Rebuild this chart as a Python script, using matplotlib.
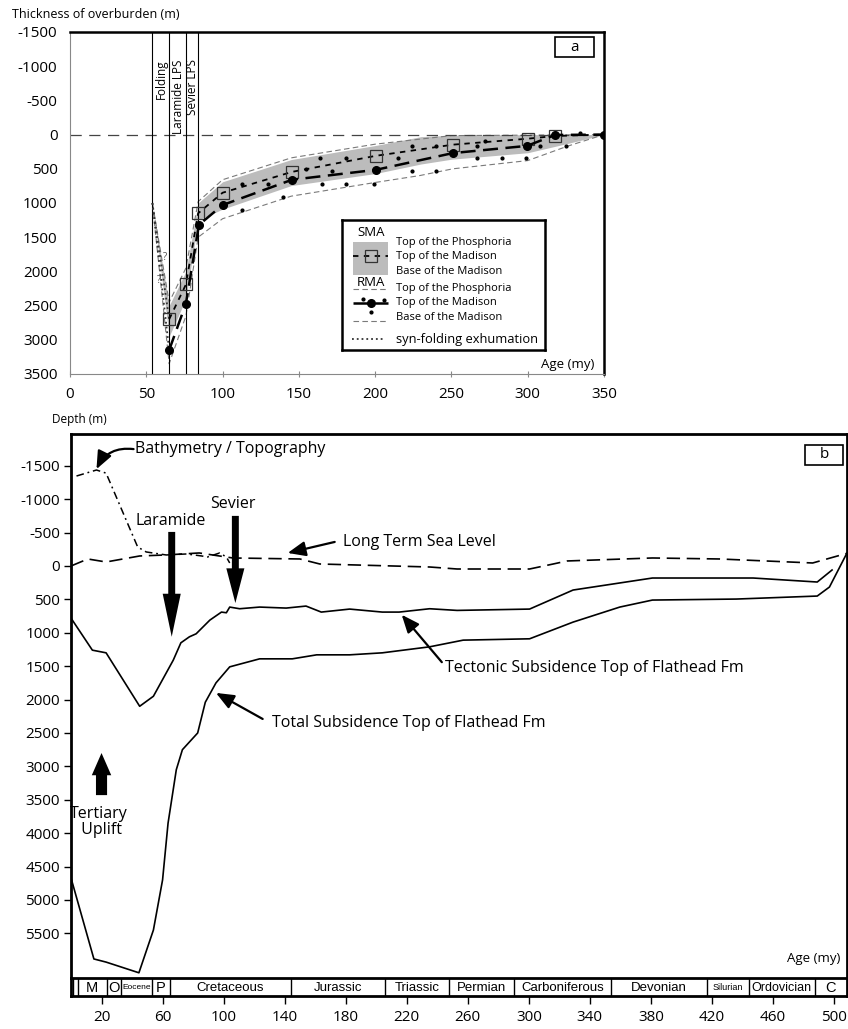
import numpy as np
import matplotlib
matplotlib.use("Agg")
import matplotlib.pyplot as plt
from matplotlib.patches import Rectangle, FancyArrowPatch

plt.rcParams['font.family'] = ['Open Sans', 'DejaVu Sans']
plt.rcParams['axes.unicode_minus'] = False

W, H = 848, 1029

# -----------------------------------------------------------------------
# Panel a data (age in my, thickness of overburden in m)
# -----------------------------------------------------------------------
sma_age = [65, 76, 84, 100, 145.5, 200.5, 251, 300, 318, 350]
sma_madison_top = [2700, 2190, 1150, 850, 545, 310, 147, 60, 20, 0]

rma_age = [65, 76, 84.5, 100, 145.5, 200.5, 251, 299.5, 318, 350]
rma_madison_top = [3150, 2470, 1320, 1030, 660, 515, 270, 165, 5, 0]

band_age = [54, 65, 76, 84, 100, 145, 200, 230, 250, 300, 326, 350]
band_phosphoria = [1000, 2500, 2000, 1000, 690, 365, 160, 30, 10, 0, 0, 0]
band_madison_base = [1000, 2950, 2400, 1250, 1090, 745, 570, 430, 360, 265, 130, 0]

rma_phos_age = [54, 65, 76, 84, 100, 145, 200, 250, 350]
rma_phos = [1000, 2450, 1950, 980, 660, 340, 140, 15, 0]

rma_base_age = [54, 65, 76, 84, 100, 145, 200, 229, 251, 300, 326, 350]
rma_base = [1000, 3350, 2650, 1500, 1230, 900, 700, 600, 500, 380, 170, 0]

syn_age = [54, 65]
syn_sma = [1000, 2700]
syn_rma = [1000, 3150]

dot_age = [113, 130, 155, 164, 172, 181, 215, 224, 240, 267, 272, 308, 334,
           113, 139.5, 165, 181, 199, 224, 240, 267, 283, 299, 325]
dot_depth = [720, 720, 500, 340, 525, 340, 340, 160, 160, 160, 100, 160, -30,
             1100, 910, 720, 720, 720, 525, 525, 335, 335, 335, 160]

event_ages = [54, 65, 76, 84]
event_labels = [("Folding", 59.6), ("Laramide LPS", 70.8), ("Sevier LPS", 80.3)]

# -----------------------------------------------------------------------
# Panel b data (age in my, depth in m)
# -----------------------------------------------------------------------
tect_age = [0, 14, 23, 45, 54, 67, 72, 77.6, 82, 91, 98.6, 101.8, 104, 110.5,
            123.6, 141, 154, 164, 182.6, 204, 215, 235, 253, 300.5, 329, 381,
            447, 489, 498.7]
tect_depth = [780, 1260, 1300, 2100, 1950, 1410, 1150, 1060, 1015, 810, 690, 700,
              615, 640, 615, 630, 600, 690, 645, 690, 690, 640, 665, 645, 360,
              180, 180, 240, 60]

total_age = [0, 15, 23, 44.5, 54, 60, 63.6, 69, 73, 83, 88, 95, 104, 110.5,
             123.6, 145, 161, 182.6, 204, 235, 257, 300.5, 329, 359.6, 381,
             436, 489, 497, 508.5]
total_depth = [4670, 5883, 5930, 6090, 5450, 4700, 3850, 3050, 2750, 2500, 2040,
               1750, 1510, 1470, 1390, 1390, 1330, 1330, 1300, 1210, 1110, 1090,
               840, 615, 510, 495, 450, 315, -195]

sea_age = [0, 11, 23, 45, 62, 84, 106, 150, 163, 235, 253, 300.5, 316, 325,
           381, 425, 486, 508.5]
sea_depth = [0, -105, -60, -150, -165, -195, -120, -105, -30, 15, 45, 45, -30,
             -75, -120, -105, -45, -190]

bathy_age = [3.6, 16.7, 23, 43.7, 49.3, 62.4, 75.7, 85.6, 89.5, 97.4, 101.8, 104]
bathy_depth = [-1347, -1437, -1390, -284, -210, -165, -180, -150, -135, -195,
               -135, -45]

period_edges = [0, 1.6, 4.3, 23.3, 33, 53.4, 64.6, 144, 206, 248, 290, 354,
                417, 444, 487.5, 508.5]
period_names = ['', '', 'M', 'O', 'Eocene', 'P', 'Cretaceous', 'Jurassic',
                'Triassic', 'Permian', 'Carboniferous', 'Devonian', 'Silurian',
                'Ordovician', 'C']
period_fs = {'Eocene': 6, 'Silurian': 6.5, 'Ordovician': 9, 'M': 10.5, 'O': 10.5,
             'P': 10.5, 'C': 10.5}

fig = plt.figure(figsize=(W / 100, H / 100), dpi=100)

# -----------------------------------------------------------------------
# Panel a
# -----------------------------------------------------------------------
ax = fig.add_axes([70 / W, 1 - 374 / H, 534 / W, 342 / H])
ax.set_xlim(0, 350)
ax.set_ylim(3500, -1500)

ax.fill_between(band_age, band_phosphoria, band_madison_base,
                color='#bcbcbc', lw=0, zorder=1)
ax.plot(rma_phos_age, rma_phos, color='#7a7a7a', lw=0.8, dashes=(5, 3), zorder=2)
ax.plot(rma_base_age, rma_base, color='#7a7a7a', lw=0.8, dashes=(5, 3), zorder=2)
ax.plot(syn_age, syn_sma, color='#333', lw=1.3, ls=':', zorder=3)
ax.plot(syn_age, syn_rma, color='#333', lw=1.3, ls=':', zorder=3)
ax.plot(dot_age, dot_depth, ls='none', marker='o', ms=2, color='k', zorder=3)
ax.plot(sma_age, sma_madison_top, color='k', lw=1.3, dashes=(3, 3),
        marker='s', ms=8.5, mfc='none', mec='#333', mew=0.9,
        markevery=list(range(len(sma_age) - 1)), zorder=4)
ax.plot(rma_age, rma_madison_top, color='k', lw=1.8, dashes=(6, 3),
        marker='o', ms=5.5, zorder=5)

ax.axhline(0, color='#444', lw=0.9, dashes=(9, 6), zorder=2)
for a in event_ages:
    ax.axvline(a, color='k', lw=0.8, zorder=2)
for lab, xa in event_labels:
    ax.text(xa, -1100, lab, rotation=90, ha='center', va='top', fontsize=8.5)
ax.text(62, 1800, '?', fontsize=7, color='#555', ha='center', va='center')
ax.text(58.5, 2130, '?', fontsize=7, color='#555', ha='center', va='center')

ax.set_xticks(np.arange(0, 351, 50))
ax.set_yticks(np.arange(-1500, 3501, 500))
ax.tick_params(axis='y', length=0, pad=9, labelsize=11)
ax.tick_params(axis='x', direction='inout', length=5, color='#888', pad=7,
               labelsize=11)
for s in ['top', 'right']:
    ax.spines[s].set_linewidth(1.8)
for s in ['left', 'bottom']:
    ax.spines[s].set_linewidth(0.8)
    ax.spines[s].set_color('#888')

ax.text(344, 3363, 'Age (my)', ha='right', va='center', fontsize=9.5)
ax.add_patch(Rectangle((0.908, 0.927), 0.073, 0.058, transform=ax.transAxes,
                       fill=False, lw=1.2, ec='k'))
ax.text(0.9445, 0.956, 'a', transform=ax.transAxes, ha='center', va='center',
        fontsize=11)
fig.text(12 / W, 1 - 14 / H, 'Thickness of overburden (m)', ha='left',
         va='center', fontsize=9)

# legend drawn in its own pixel-coordinate box
lg = fig.add_axes([342 / W, 1 - 350 / H, 203 / W, 130 / H])
lg.set_xlim(342, 545)
lg.set_ylim(350, 220)
lg.set_xticks([])
lg.set_yticks([])
for s in lg.spines.values():
    s.set_linewidth(1.8)
lg.text(371, 233, 'SMA', ha='center', va='center', fontsize=9.5)
lg.add_patch(Rectangle((353, 242), 35, 33, color='#bcbcbc', lw=0))
lg.plot([353, 388], [256, 256], color='k', lw=1.3, dashes=(3, 3))
lg.plot([371], [256], marker='s', ms=8.5, mfc='none', mec='#333', mew=0.9)
lg.text(371, 282, 'RMA', ha='center', va='center', fontsize=9.5)
lg.plot([353, 388], [289, 289], color='#7a7a7a', lw=0.8, dashes=(5, 3))
lg.plot([353, 388], [303, 303], color='k', lw=1.8, dashes=(6, 3))
lg.plot([371], [303], marker='o', ms=5.5, color='k')
lg.plot([363, 384, 371], [299, 300, 312], ls='none', marker='o', ms=2, color='k')
lg.plot([353, 388], [321, 321], color='#7a7a7a', lw=0.8, dashes=(5, 3))
lg.plot([352, 384], [339, 339], color='#333', lw=1.3, ls=':')
for yy, txt in [(242, 'Top of the Phosphoria'), (257, 'Top of the Madison'),
                (271, 'Base of the Madison'), (289, 'Top of the Phosphoria'),
                (303, 'Top of the Madison'), (318, 'Base of the Madison')]:
    lg.text(396, yy, txt, ha='left', va='center', fontsize=8)
lg.text(396, 339, 'syn-folding exhumation', ha='left', va='center', fontsize=9.3)

# -----------------------------------------------------------------------
# Panel b
# -----------------------------------------------------------------------
bx = fig.add_axes([71 / W, 1 - 978 / H, 776 / W, 544 / H])
bx.set_xlim(0, 508.5)
bx.set_ylim(6168, -1976)

bx.plot(tect_age, tect_depth, color='k', lw=1.2)
bx.plot(total_age, total_depth, color='k', lw=1.2)
bx.plot(sea_age, sea_depth, color='k', lw=1.2, dashes=(8, 4))
bx.plot(bathy_age, bathy_depth, color='k', lw=1.1, dashes=(5, 2.5, 1.2, 2.5))

bx.set_xticks([])
bx.set_yticks(np.arange(-1500, 5501, 500))
bx.tick_params(axis='y', direction='out', length=5, width=1, pad=3, labelsize=11)
for s in bx.spines.values():
    s.set_linewidth(2)
bx.spines['bottom'].set_visible(False)

big = dict(color='k', lw=0, shrinkA=0, shrinkB=0, mutation_scale=1)
bx.add_patch(FancyArrowPatch((66, -510), (66, 1060),
             arrowstyle='simple,head_width=13,head_length=31,tail_width=5', **big))
bx.add_patch(FancyArrowPatch((107.7, -750), (107.7, 555),
             arrowstyle='simple,head_width=13,head_length=25,tail_width=5', **big))
bx.add_patch(FancyArrowPatch((20, 3430), (20, 2800),
             arrowstyle='simple,head_width=14,head_length=16,tail_width=8', **big))
bx.text(65, -675, 'Laramide', ha='center', va='center', fontsize=11.5)
bx.text(106, -930, 'Sevier', ha='center', va='center', fontsize=11.5)
bx.text(18.5, 3830, 'Tertiary\n Uplift', ha='center', va='center',
        fontsize=11.5, linespacing=1.05)

thin = dict(arrowstyle='-|>,head_length=0.6,head_width=0.25', color='k',
            lw=1.6, mutation_scale=18, shrinkA=0, shrinkB=0)
bx.annotate('', xy=(16.7, -1450), xytext=(41, -1750),
            arrowprops=dict(connectionstyle='arc3,rad=0.35', **thin))
bx.text(42, -1750, 'Bathymetry / Topography', ha='left', va='center',
        fontsize=11.5)
bx.annotate('', xy=(142, -195), xytext=(172.8, -360), arrowprops=thin)
bx.text(178, -360, 'Long Term Sea Level', ha='left', va='center', fontsize=11.5)
bx.annotate('', xy=(216.7, 730), xytext=(243, 1440), arrowprops=thin)
bx.text(245, 1530, 'Tectonic Subsidence Top of Flathead Fm', ha='left',
        va='center', fontsize=11.5)
bx.annotate('', xy=(95, 1900), xytext=(125.6, 2290), arrowprops=thin)
bx.text(132, 2350, 'Total Subsidence Top of Flathead Fm', ha='left',
        va='center', fontsize=11.5)

bx.text(504, 5870, 'Age (my)', ha='right', va='center', fontsize=9.5)
bx.add_patch(Rectangle((0.946, 0.943), 0.049, 0.037, transform=bx.transAxes,
                       fill=False, lw=1.2, ec='k'))
bx.text(0.9705, 0.9615, 'b', transform=bx.transAxes, ha='center', va='center',
        fontsize=11)
fig.text(52 / W, 1 - 420 / H, 'Depth (m)', ha='left', va='center', fontsize=8.5)

# geologic time scale strip
sx = fig.add_axes([71 / W, 1 - 996 / H, 776 / W, 18 / H])
sx.set_xlim(0, 508.5)
sx.set_ylim(0, 1)
sx.set_yticks([])
sx.set_xticks(np.arange(20, 501, 40))
sx.tick_params(axis='x', direction='out', length=6, width=1, pad=4, labelsize=11)
for s in sx.spines.values():
    s.set_linewidth(2)
for e in period_edges[1:-1]:
    sx.axvline(e, color='k', lw=1)
for i, name in enumerate(period_names):
    if not name:
        continue
    mid = 0.5 * (period_edges[i] + period_edges[i + 1])
    sx.text(mid, 0.45, name, ha='center', va='center',
            fontsize=period_fs.get(name, 9.5),
            family=['Liberation Sans', 'DejaVu Sans'])

fig.savefig('out.png', dpi=100)
